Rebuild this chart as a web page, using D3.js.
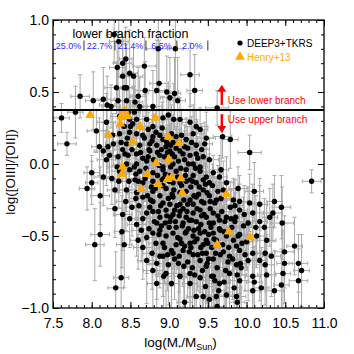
<!DOCTYPE html>
<html>
<head>
<meta charset="utf-8">
<script src="https://cdn.jsdelivr.net/npm/d3@7"></script>
<style>
  body { margin: 0; background: #fff; }
  svg { display: block; font-family: "Liberation Sans", Arial, Helvetica, sans-serif; }
</style>
</head>
<body>
<svg id="chart"></svg>
<script>
'use strict';
// tick labels
const xTicks = [7.5, 8.0, 8.5, 9.0, 9.5, 10.0, 10.5, 11.0];
const yTicks = [-1.0, -0.5, 0.0, 0.5, 1.0];
// lower-branch fraction per mass bin
const binEdges = [7.5, 7.9, 8.3, 8.7, 9.1, 9.5];
const binFractions = ['25.0%', '22.7%', '21.4%', '6.5%', '2.0%'];
// branch division
const branchLine = 0.375;
// DEEP3+TKRS: [log M*, log O32, err M*, err O32]
const deep3 = [
  [8.29,0.90,0.10,0.20],[8.35,0.85,0.12,0.25],[8.86,0.80,0.15,0.30],[9.08,0.80,0.10,0.35],
  [8.44,0.73,0.08,0.22],[8.40,0.70,0.12,0.18],[8.33,0.67,0.10,0.25],[8.68,0.68,0.15,0.20],
  [8.49,0.63,0.10,0.30],[8.54,0.61,0.12,0.20],[8.40,0.61,0.08,0.25],[9.27,0.62,0.12,0.22],
  [8.32,0.53,0.15,0.18],[8.42,0.53,0.10,0.20],[8.45,0.53,0.08,0.30],[9.33,0.51,0.10,0.25],
  [8.69,0.51,0.12,0.20],[8.84,0.51,0.10,0.35],[8.97,0.50,0.15,0.25],[8.60,0.47,0.10,0.20],
  [8.87,0.56,0.12,0.30],[7.85,0.47,0.12,0.15],[8.02,0.44,0.10,0.20],[8.15,0.45,0.15,0.22],
  [8.34,0.44,0.10,0.25],[8.45,0.44,0.12,0.18],[8.56,0.43,0.10,0.20],[9.07,0.49,0.08,0.25],
  [9.11,0.44,0.10,0.30],[9.01,0.46,0.12,0.28],[8.20,0.41,0.10,0.20],[8.25,0.40,0.12,0.15],
  [8.62,0.40,0.10,0.20],[8.79,0.40,0.12,0.25],[9.62,0.39,0.15,0.12],
  [7.61,0.32,0.10,0.10],[7.79,0.36,0.10,0.18],[8.49,0.31,0.10,0.15],[8.53,0.28,0.08,0.20],
  [8.58,0.31,0.12,0.12],[8.71,0.31,0.10,0.18],[8.92,0.32,0.12,0.15],[8.99,0.34,0.08,0.20],
  [9.06,0.31,0.10,0.25],[9.14,0.31,0.12,0.15],[9.27,0.29,0.10,0.20],[9.35,0.26,0.15,0.12],
  [8.79,0.26,0.10,0.15],[8.19,0.29,0.12,0.20],[7.68,0.14,0.12,0.08],[8.10,0.12,0.10,0.20],
  [8.06,0.23,0.12,0.15],[8.36,0.21,0.10,0.18],[8.49,0.22,0.08,0.12],[8.58,0.21,0.10,0.15],
  [8.66,0.20,0.12,0.20],[8.73,0.24,0.10,0.12],[8.79,0.19,0.08,0.15],[8.88,0.20,0.10,0.18],
  [8.92,0.17,0.12,0.12],[9.03,0.21,0.10,0.20],[9.05,0.15,0.08,0.15],[9.09,0.19,0.10,0.12],
  [9.16,0.20,0.12,0.18],[9.22,0.17,0.10,0.15],[9.31,0.21,0.15,0.20],[9.40,0.24,0.10,0.15],
  [9.48,0.18,0.12,0.18],[9.69,0.19,0.12,0.15],[9.79,0.17,0.10,0.20],[10.04,0.08,0.15,0.12],
  [8.28,0.14,0.10,0.15],[8.45,0.14,0.12,0.18],[8.62,0.13,0.10,0.12],[8.75,0.14,0.08,0.15],
  [8.84,0.13,0.10,0.20],[8.96,0.12,0.12,0.12],[9.20,0.12,0.10,0.15],[9.35,0.13,0.08,0.18],
  [9.46,0.14,0.10,0.15],[8.15,0.09,0.12,0.20],[8.23,0.06,0.10,0.15],[8.34,0.05,0.08,0.18],
  [8.47,0.06,0.10,0.12],[8.58,0.07,0.12,0.15],[8.66,0.04,0.10,0.20],[8.75,0.09,0.08,0.12],
  [8.88,0.06,0.10,0.15],[9.01,0.09,0.12,0.18],[9.07,0.05,0.10,0.12],[9.14,0.09,0.08,0.15],
  [9.20,0.03,0.10,0.20],[9.27,0.06,0.12,0.12],[9.35,0.07,0.10,0.15],[9.44,0.05,0.08,0.18],
  [9.52,0.03,0.12,0.15],[8.45,0.00,0.10,0.12],[8.58,0.00,0.08,0.15],[8.71,0.02,0.10,0.18],
  [8.92,-0.02,0.12,0.12],[9.05,0.00,0.10,0.15],[9.31,0.00,0.08,0.20],[9.40,-0.02,0.10,0.15],
  [8.19,0.03,0.12,0.18],[8.00,-0.06,0.10,0.12],[8.00,-0.13,0.08,0.15],[8.15,-0.09,0.12,0.20],
  [8.36,-0.05,0.10,0.15],[8.49,-0.04,0.08,0.12],[8.62,-0.05,0.10,0.18],[8.79,-0.06,0.12,0.15],
  [8.92,-0.04,0.10,0.12],[9.01,-0.08,0.08,0.20],[9.09,-0.05,0.10,0.15],[9.22,-0.04,0.12,0.12],
  [9.31,-0.08,0.10,0.18],[9.40,-0.05,0.08,0.15],[9.48,-0.09,0.10,0.20],[9.57,-0.06,0.12,0.12],
  [8.56,-0.11,0.10,0.15],[8.66,-0.13,0.08,0.18],[8.79,-0.12,0.10,0.12],[8.92,-0.15,0.12,0.15],
  [9.05,-0.13,0.10,0.20],[9.14,-0.13,0.08,0.15],[9.27,-0.11,0.10,0.12],[9.35,-0.13,0.12,0.18],
  [9.44,-0.11,0.10,0.15],[9.52,-0.13,0.08,0.20],[9.65,-0.09,0.10,0.15],[10.84,-0.12,0.12,0.08],
  [9.74,-0.13,0.10,0.18],[9.67,-0.04,0.10,0.22],[7.94,-0.17,0.10,0.15],[8.11,-0.22,0.12,0.20],
  [8.30,-0.18,0.10,0.18],[8.57,-0.24,0.08,0.15],[8.45,-0.18,0.10,0.15],[8.58,-0.20,0.12,0.12],
  [8.66,-0.23,0.10,0.18],[8.79,-0.19,0.08,0.15],[8.88,-0.22,0.10,0.20],[8.96,-0.17,0.12,0.12],
  [9.05,-0.23,0.10,0.15],[9.14,-0.20,0.08,0.18],[9.22,-0.19,0.10,0.15],[9.27,-0.25,0.12,0.20],
  [9.35,-0.23,0.10,0.12],[9.44,-0.18,0.08,0.15],[9.52,-0.22,0.10,0.18],[9.61,-0.25,0.12,0.15],
  [9.70,-0.18,0.10,0.20],[9.83,-0.25,0.08,0.15],[9.91,-0.26,0.10,0.18],[8.79,-0.26,0.12,0.15],
  [8.92,-0.27,0.10,0.20],[9.01,-0.28,0.08,0.12],[9.14,-0.28,0.10,0.15],[9.31,-0.28,0.12,0.18],
  [9.42,-0.26,0.10,0.15],[10.04,-0.27,0.12,0.20],[10.17,-0.28,0.10,0.18],[9.89,-0.17,0.12,0.15],
  [10.10,-0.19,0.12,0.20],[10.36,-0.26,0.10,0.18],[10.45,-0.30,0.12,0.22],[10.30,-0.37,0.10,0.20],
  [10.46,-0.41,0.15,0.25],[10.23,-0.44,0.12,0.20],[10.12,-0.44,0.10,0.22],[8.30,-0.31,0.10,0.20],
  [8.40,-0.35,0.12,0.25],[8.49,-0.38,0.10,0.20],[8.71,-0.34,0.08,0.15],[8.79,-0.33,0.10,0.18],
  [8.88,-0.37,0.12,0.20],[8.96,-0.32,0.10,0.15],[9.05,-0.35,0.08,0.18],[9.14,-0.33,0.10,0.20],
  [9.22,-0.37,0.12,0.15],[9.31,-0.34,0.10,0.18],[9.40,-0.32,0.08,0.20],[9.48,-0.37,0.10,0.15],
  [9.57,-0.34,0.12,0.18],[9.65,-0.39,0.10,0.20],[9.74,-0.37,0.08,0.15],[9.91,-0.32,0.10,0.18],
  [10.08,-0.34,0.12,0.20],[10.17,-0.40,0.10,0.25],[10.34,-0.34,0.12,0.20],[8.84,-0.41,0.10,0.18],
  [9.01,-0.40,0.12,0.20],[9.18,-0.41,0.10,0.15],[9.35,-0.40,0.08,0.22],[9.52,-0.41,0.10,0.18],
  [9.85,-0.40,0.12,0.20],[10.02,-0.41,0.10,0.25],[8.39,-0.47,0.10,0.25],[8.11,-0.49,0.12,0.22],
  [8.60,-0.53,0.10,0.20],[8.79,-0.48,0.12,0.22],[8.88,-0.46,0.10,0.18],[8.96,-0.50,0.08,0.20],
  [9.05,-0.48,0.10,0.25],[9.14,-0.52,0.12,0.18],[9.22,-0.47,0.10,0.20],[9.31,-0.50,0.08,0.22],
  [9.40,-0.48,0.10,0.18],[9.48,-0.53,0.12,0.25],[9.57,-0.48,0.10,0.20],[9.65,-0.45,0.08,0.18],
  [9.74,-0.50,0.10,0.22],[9.83,-0.53,0.12,0.20],[9.91,-0.49,0.10,0.25],[10.00,-0.54,0.08,0.20],
  [10.13,-0.50,0.10,0.22],[10.26,-0.53,0.12,0.25],[8.04,-0.56,0.12,0.25],[8.42,-0.56,0.10,0.30],
  [8.66,-0.58,0.12,0.22],[8.92,-0.55,0.10,0.25],[9.09,-0.56,0.08,0.20],[9.27,-0.55,0.10,0.22],
  [9.44,-0.56,0.12,0.25],[9.87,-0.57,0.10,0.20],[8.78,-0.62,0.12,0.25],[8.92,-0.64,0.10,0.28],
  [9.05,-0.62,0.08,0.22],[9.18,-0.60,0.10,0.25],[9.31,-0.63,0.12,0.30],[9.40,-0.67,0.10,0.22],
  [9.48,-0.62,0.08,0.25],[9.57,-0.66,0.10,0.28],[9.70,-0.61,0.12,0.22],[9.78,-0.64,0.10,0.25],
  [9.91,-0.60,0.08,0.30],[10.08,-0.62,0.10,0.25],[10.32,-0.64,0.12,0.28],[10.62,-0.57,0.10,0.20],
  [8.71,-0.67,0.12,0.30],[8.84,-0.69,0.10,0.25],[8.99,-0.70,0.08,0.28],[9.12,-0.69,0.10,0.30],
  [9.24,-0.68,0.12,0.25],[10.17,-0.67,0.10,0.28],[9.87,-0.70,0.12,0.30],[9.48,-0.71,0.10,0.25],
  [8.38,-0.79,0.10,0.30],[8.79,-0.74,0.12,0.28],[8.96,-0.76,0.10,0.30],[9.14,-0.78,0.08,0.25],
  [9.27,-0.76,0.10,0.28],[9.40,-0.79,0.12,0.30],[9.57,-0.78,0.10,0.25],[9.65,-0.83,0.08,0.30],
  [9.78,-0.76,0.10,0.28],[9.91,-0.81,0.12,0.30],[10.08,-0.78,0.10,0.25],[10.26,-0.77,0.12,0.28],
  [10.47,-0.76,0.10,0.30],[10.67,-0.69,0.12,0.20],[10.71,-0.74,0.10,0.25],[10.67,-0.81,0.12,0.22],
  [9.27,-0.83,0.10,0.30],[8.84,-0.83,0.12,0.28],[9.03,-0.83,0.10,0.30],[8.31,-0.86,0.10,0.25],
  [9.20,-0.96,0.10,0.30],[9.35,-0.92,0.12,0.28],[9.44,-0.92,0.10,0.30],[9.52,-0.94,0.08,0.25],
  [9.61,-0.92,0.10,0.30],[9.62,-0.99,0.12,0.28],[9.74,-0.91,0.10,0.30],[9.87,-0.92,0.12,0.25],
  [10.08,-0.88,0.10,0.30],[10.36,-0.88,0.12,0.28],[10.45,-0.84,0.10,0.25],[10.49,-0.61,0.12,0.25],
  [10.49,-0.69,0.10,0.28],[10.24,-0.62,0.10,0.25],[10.24,-0.70,0.12,0.28],[10.10,-0.82,0.10,0.25],
  [10.19,-0.86,0.10,0.28],[9.92,-0.69,0.12,0.25],[9.88,-0.96,0.10,0.30],[8.93,-0.78,0.10,0.25],
  [8.88,-0.64,0.10,0.22],
  [8.72,-0.22,0.10,0.15],[8.75,-0.30,0.12,0.18],[8.81,-0.40,0.10,0.20],[8.85,-0.08,0.08,0.12],
  [8.86,-0.33,0.10,0.18],[8.90,-0.43,0.12,0.20],[8.93,-0.10,0.10,0.15],[8.94,-0.58,0.08,0.25],
  [8.97,-0.36,0.10,0.18],[8.99,-0.24,0.12,0.15],[9.00,-0.44,0.10,0.20],[9.02,-0.02,0.08,0.12],
  [9.03,-0.60,0.10,0.25],[9.06,-0.18,0.12,0.15],[9.08,-0.40,0.10,0.20],[9.10,-0.29,0.08,0.18],
  [9.11,-0.51,0.10,0.22],[9.12,0.02,0.12,0.12],[9.13,-0.64,0.10,0.25],[9.16,-0.15,0.08,0.15],
  [9.17,-0.43,0.10,0.20],[9.19,-0.25,0.12,0.18],[9.20,-0.57,0.10,0.22],[9.21,-0.08,0.08,0.15],
  [9.23,-0.33,0.10,0.18],[9.25,-0.45,0.12,0.20],[9.26,-0.61,0.10,0.25],[9.28,-0.16,0.08,0.15],
  [9.29,-0.39,0.10,0.20],[9.30,-0.72,0.12,0.28],[9.32,-0.22,0.10,0.15],[9.33,-0.54,0.08,0.22],
  [9.34,-0.03,0.10,0.12],[9.36,-0.31,0.12,0.18],[9.37,-0.63,0.10,0.25],[9.38,-0.45,0.08,0.20],
  [9.39,-0.16,0.10,0.15],[9.41,-0.58,0.12,0.22],[9.42,-0.36,0.10,0.18],[9.43,-0.74,0.08,0.28],
  [9.45,-0.27,0.10,0.18],[9.46,-0.47,0.12,0.20],[9.47,-0.85,0.10,0.30],[9.49,-0.20,0.08,0.15],
  [9.50,-0.55,0.10,0.22],[9.51,-0.66,0.12,0.25],[9.53,-0.31,0.10,0.18],[9.54,-0.44,0.08,0.20],
  [9.55,-0.78,0.10,0.28],[9.56,-0.15,0.12,0.15],[9.58,-0.52,0.10,0.22],[9.59,-0.27,0.08,0.18],
  [9.60,-0.62,0.10,0.25],[9.62,-0.72,0.12,0.28],[9.63,-0.36,0.10,0.20],[9.64,-0.88,0.08,0.30],
  [9.66,-0.46,0.10,0.20],[9.67,-0.24,0.12,0.18],[9.69,-0.56,0.10,0.22],[9.71,-0.82,0.08,0.30],
  [9.72,-0.40,0.10,0.20],[9.76,-0.68,0.12,0.25],[9.79,-0.30,0.10,0.18],[9.81,-0.44,0.08,0.20],
  [9.84,-0.86,0.10,0.30],[9.86,-0.37,0.12,0.20],[9.89,-0.50,0.10,0.22],[9.93,-0.72,0.08,0.28],
  [9.96,-0.43,0.10,0.20],[9.98,-0.63,0.12,0.25],[8.60,-0.12,0.10,0.15],[8.63,0.08,0.08,0.12],
  [8.66,-0.38,0.10,0.20],[8.68,0.18,0.12,0.15],[8.70,-0.03,0.10,0.12],[8.74,0.10,0.08,0.15],
  [8.77,-0.16,0.10,0.18],[8.80,0.03,0.12,0.12],[8.83,0.22,0.10,0.15],[8.87,-0.49,0.08,0.22],
  [8.90,0.10,0.10,0.12],[8.94,0.05,0.12,0.15],[8.97,0.15,0.10,0.12],[9.00,-0.12,0.08,0.15],
  [9.04,0.07,0.10,0.12],[9.07,-0.32,0.12,0.18],[9.13,0.15,0.10,0.15],[9.18,0.07,0.08,0.12],
  [9.24,0.11,0.10,0.15],[8.52,0.10,0.12,0.15],[8.55,-0.02,0.10,0.12],[8.46,0.18,0.08,0.15],
  [8.42,0.26,0.10,0.18],[8.36,0.33,0.12,0.20],[8.47,0.36,0.10,0.15],[8.55,0.36,0.08,0.18],
  [8.40,0.10,0.10,0.15],[8.33,-0.02,0.12,0.18],[8.27,0.20,0.10,0.15],[8.52,-0.30,0.08,0.20],
  [8.48,-0.12,0.10,0.15],[8.58,-0.42,0.12,0.22],
  [8.74,-0.45,0.12,0.25],[8.83,-0.55,0.10,0.22],[8.89,-0.29,0.12,0.20],[8.91,-0.11,0.10,0.18],
  [8.95,-0.41,0.12,0.22],[8.98,-0.63,0.10,0.25],[9.02,-0.37,0.12,0.20],[9.04,-0.21,0.10,0.18],
  [9.07,-0.66,0.12,0.28],[9.09,-0.44,0.10,0.22],[9.11,-0.09,0.12,0.15],[9.13,-0.36,0.10,0.20],
  [9.16,-0.55,0.12,0.25],[9.18,-0.31,0.10,0.18],[9.19,-0.71,0.12,0.28],[9.21,-0.48,0.10,0.22],
  [9.24,-0.28,0.12,0.18],[9.26,-0.39,0.10,0.20],[9.28,-0.58,0.12,0.25],[9.30,-0.12,0.10,0.15],
  [9.32,-0.46,0.12,0.22],[9.33,-0.77,0.10,0.30],[9.36,-0.52,0.12,0.22],[9.38,-0.21,0.10,0.18],
  [9.41,-0.42,0.12,0.20],[9.43,-0.62,0.10,0.25],[9.45,-0.35,0.12,0.20],[9.47,-0.14,0.10,0.15],
  [9.49,-0.69,0.12,0.28],[9.51,-0.49,0.10,0.22],[9.53,-0.26,0.12,0.18],[9.55,-0.58,0.10,0.25],
  [9.57,-0.41,0.12,0.20],[9.59,-0.81,0.10,0.30],[9.61,-0.53,0.12,0.22],[9.63,-0.19,0.10,0.18],
  [9.66,-0.63,0.12,0.25],[9.68,-0.33,0.10,0.20],[9.71,-0.47,0.12,0.22],[9.73,-0.74,0.10,0.28],
  [9.77,-0.58,0.12,0.25],[9.80,-0.38,0.10,0.20],[9.82,-0.66,0.12,0.28],[9.85,-0.29,0.10,0.18],
  [9.88,-0.77,0.12,0.30],[9.94,-0.55,0.10,0.22],[9.97,-0.35,0.12,0.20],[10.02,-0.67,0.10,0.28],
  [8.57,-0.07,0.12,0.18],[8.61,-0.29,0.10,0.20],[8.64,-0.46,0.12,0.22],[8.69,-0.10,0.10,0.15],
  [8.71,-0.51,0.12,0.25],[8.73,0.05,0.10,0.15],[8.76,-0.25,0.12,0.18],[8.78,0.16,0.10,0.15],
  [8.82,-0.17,0.12,0.18],[8.85,0.08,0.10,0.15],[8.87,-0.01,0.12,0.15],[8.91,0.25,0.10,0.18],
  [8.95,-0.07,0.12,0.15],[8.98,0.08,0.10,0.15],[9.02,0.13,0.12,0.15],[9.09,0.11,0.10,0.15],
  [9.15,-0.03,0.12,0.15],[9.22,-0.12,0.10,0.18],[9.25,0.00,0.12,0.15],[9.29,0.15,0.10,0.18],
  [9.37,0.04,0.12,0.15],[9.42,0.10,0.10,0.18],[8.38,0.15,0.12,0.18],[8.43,0.07,0.10,0.15],
  [8.50,0.26,0.12,0.18],[8.35,-0.12,0.10,0.18],[8.44,-0.26,0.12,0.20],[8.26,-0.10,0.10,0.18],
  [8.21,0.12,0.12,0.18]
];
// Henry+13: [log M*, log O32]
const henry = [
  [7.98,0.34],[8.43,0.37],[8.38,0.33],[8.46,0.33],[8.37,0.28],[8.82,0.32],[8.63,0.26],
  [8.22,0.20],[8.53,0.155],[8.99,0.19],[9.13,0.146],[8.40,-0.02],[8.39,-0.07],[8.83,0.005],
  [8.99,0.03],[8.72,-0.07],[8.98,-0.105],[9.03,-0.095],[9.15,-0.10],[8.86,-0.14],[8.64,-0.175],
  [9.17,-0.20],[9.74,-0.21],[9.77,-0.47],[10.05,-0.51],[9.62,-0.56]
];

const margin = { top: 20, right: 30, bottom: 46, left: 53 };
const outerWidth = 354, outerHeight = 354;
const width = outerWidth - margin.left - margin.right;
const height = outerHeight - margin.top - margin.bottom;
const orange = '#ffaa00';

const svg = d3.select('#chart')
  .attr('width', outerWidth)
  .attr('height', outerHeight);

const x = d3.scaleLinear().domain([7.5, 11.0]).range([0, width]);
const y = d3.scaleLinear().domain([-1.0, 1.0]).range([height, 0]);

svg.append('defs').append('clipPath').attr('id', 'clip')
  .append('rect').attr('width', width).attr('height', height);

const g = svg.append('g')
  .attr('transform', `translate(${margin.left},${margin.top})`);

const plot = g.append('g').attr('clip-path', 'url(#clip)');

// error bars with caps
const cap = 2;
plot.append('g')
  .attr('fill', 'none')
  .attr('stroke', '#a8a8a8')
  .attr('stroke-width', 1)
  .selectAll('path')
  .data(deep3)
  .join('path')
  .attr('d', d => {
    const x0 = x(d[0] - d[2]), x1 = x(d[0] + d[2]), cx = x(d[0]);
    const y0 = y(d[1] - d[3]), y1 = y(d[1] + d[3]), cy = y(d[1]);
    return `M${x0},${cy}H${x1}M${x0},${cy - cap}V${cy + cap}M${x1},${cy - cap}V${cy + cap}` +
      `M${cx},${y0}V${y1}M${cx - cap},${y0}H${cx + cap}M${cx - cap},${y1}H${cx + cap}`;
  });

plot.append('g')
  .selectAll('circle')
  .data(deep3)
  .join('circle')
  .attr('cx', d => x(d[0]))
  .attr('cy', d => y(d[1]))
  .attr('r', 2.7)
  .attr('fill', '#000');

const tri = d3.symbol().type(d3.symbolTriangle).size(42);
plot.append('g')
  .selectAll('path')
  .data(henry)
  .join('path')
  .attr('transform', d => `translate(${x(d[0])},${y(d[1])})`)
  .attr('d', tri)
  .attr('fill', orange);

// branch division line
g.append('line')
  .attr('x1', 0).attr('x2', width)
  .attr('y1', y(branchLine)).attr('y2', y(branchLine))
  .attr('stroke', '#000')
  .attr('stroke-width', 2);

// axes with inward ticks on all four sides
const xMinor = d3.range(75, 111).map(d => d / 10);
const yMinor = d3.range(-10, 11).map(d => d / 10);
const fmt = d3.format('.1f');

const axBottom = g.append('g').attr('transform', `translate(0,${height})`);
axBottom.call(d3.axisBottom(x).tickValues(xMinor).tickSize(-3).tickFormat(''));
axBottom.append('g').call(d3.axisBottom(x).tickValues(xTicks).tickSize(-6).tickPadding(10).tickFormat(fmt));
const axTop = g.append('g');
axTop.call(d3.axisTop(x).tickValues(xMinor).tickSize(-3).tickFormat(''));
axTop.append('g').call(d3.axisTop(x).tickValues(xTicks).tickSize(-6).tickFormat(''));
const axLeft = g.append('g');
axLeft.call(d3.axisLeft(y).tickValues(yMinor).tickSize(-3).tickFormat(''));
axLeft.append('g').call(d3.axisLeft(y).tickValues(yTicks).tickSize(-6).tickPadding(4).tickFormat(fmt));
const axRight = g.append('g').attr('transform', `translate(${width},0)`);
axRight.call(d3.axisRight(y).tickValues(yMinor).tickSize(-3).tickFormat(''));
axRight.append('g').call(d3.axisRight(y).tickValues(yTicks).tickSize(-6).tickFormat(''));

g.selectAll('.domain').remove();
g.selectAll('.tick line').attr('stroke', '#000');
g.selectAll('.tick text')
  .attr('fill', '#000')
  .attr('font-size', 14)
  .attr('font-family', '"Liberation Sans", Arial, sans-serif');

g.append('rect')
  .attr('width', width)
  .attr('height', height)
  .attr('fill', 'none')
  .attr('stroke', '#000')
  .attr('stroke-width', 1.3);

// lower branch fraction header
g.append('text')
  .attr('x', x(8.5))
  .attr('y', 18)
  .attr('text-anchor', 'middle')
  .attr('font-size', 12.5)
  .text('lower branch fraction');

g.append('g')
  .selectAll('line')
  .data(binEdges.slice(1))
  .join('line')
  .attr('x1', d => x(d)).attr('x2', d => x(d))
  .attr('y1', 20.5).attr('y2', 30.5)
  .attr('stroke', '#333')
  .attr('stroke-width', 1);

g.append('g')
  .selectAll('text')
  .data(binFractions)
  .join('text')
  .attr('x', (d, i) => (x(binEdges[i]) + x(binEdges[i + 1])) / 2)
  .attr('y', 28.5)
  .attr('text-anchor', 'middle')
  .attr('font-size', 9)
  .attr('fill', '#2a2aff')
  .text(d => d);

// legend
const legend = g.append('g').attr('transform', 'translate(187,0)');
legend.append('circle').attr('cx', 0).attr('cy', 23).attr('r', 2.6).attr('fill', '#000');
legend.append('text').attr('x', 7).attr('y', 26.5).attr('font-size', 10).text('DEEP3+TKRS');
legend.append('path').attr('transform', 'translate(0,37)').attr('d', tri).attr('fill', orange);
legend.append('text').attr('x', 7).attr('y', 40.5).attr('font-size', 10).attr('fill', orange).text('Henry+13');

// branch arrows
const ax = x(9.68);
const arrows = [
  { from: 0.41, to: 0.55, label: 'Use lower branch', ly: 0.42 },
  { from: 0.345, to: 0.215, label: 'Use upper branch', ly: 0.285 }
];
arrows.forEach(a => {
  const y0 = y(a.from), y1 = y(a.to);
  const dir = y1 < y0 ? 1 : -1;
  g.append('line')
    .attr('x1', ax).attr('x2', ax)
    .attr('y1', y0).attr('y2', y1 + dir * 5)
    .attr('stroke', '#ff0000')
    .attr('stroke-width', 2.4);
  g.append('path')
    .attr('d', `M${ax},${y1}L${ax - 4.5},${y1 + dir * 7}L${ax + 4.5},${y1 + dir * 7}Z`)
    .attr('fill', '#ff0000');
  g.append('text')
    .attr('x', ax + 6)
    .attr('y', y(a.ly))
    .attr('font-size', 10)
    .attr('fill', '#ff0000')
    .text(a.label);
});

// axis titles
const xTitle = svg.append('text')
  .attr('x', margin.left + width / 2 - 8)
  .attr('y', 347)
  .attr('text-anchor', 'middle')
  .attr('font-size', 13.5);
xTitle.append('tspan').text('log(M');
xTitle.append('tspan').attr('font-size', 8).attr('dy', 3).text('*');
xTitle.append('tspan').attr('dy', -3).text('/M');
xTitle.append('tspan').attr('font-size', 9).attr('dy', 3).text('Sun');
xTitle.append('tspan').attr('dy', -3).text(')');

svg.append('text')
  .attr('transform', `translate(15,${margin.top + height / 2 + 8}) rotate(-90)`)
  .attr('text-anchor', 'middle')
  .attr('font-size', 13.5)
  .text('log([OIII]/[OII])');
</script>
</body>
</html>
